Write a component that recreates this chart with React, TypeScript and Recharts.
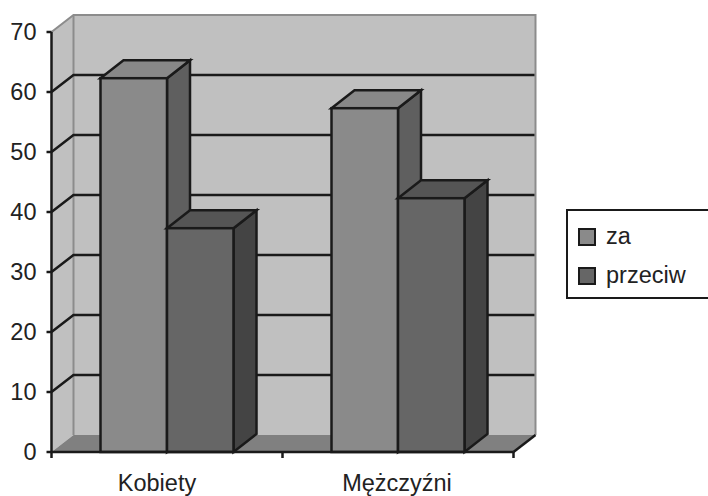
import { BarChart, Bar, XAxis, YAxis, Legend, usePlotArea } from "recharts";

const categories = ["Kobiety", "Mężczyźni"];
const zaValues = [62.3, 57.3];
const przeciwValues = [37.3, 42.3];
const yTicks = [0, 10, 20, 30, 40, 50, 60, 70];
const labelShift = [-10, -1];

const seriesNames = { za: "za", przeciw: "przeciw" };
const data = categories.map((name, i) => ({
  name,
  za: zaValues[i],
  przeciw: przeciwValues[i],
}));

const FONT = '"Liberation Sans", Arial, sans-serif';
const INK = "#1a1a1a";
const LINE = 2.5;
const DEPTH_X = 22;
const DEPTH_Y = 17;

// back wall, side wall, floor and the grid that runs round them
const Room = () => {
  const plot = usePlotArea();
  if (!plot) return null;
  const { x, y, width, height } = plot;
  const bottom = y + height;
  const right = x + width;
  const step = height / (yTicks.length - 1);
  return (
    <g>
      <rect x={x + DEPTH_X} y={y - DEPTH_Y} width={width} height={height} fill="#c0c0c0" />
      <polygon
        points={`${x},${y} ${x + DEPTH_X},${y - DEPTH_Y} ${x + DEPTH_X},${bottom - DEPTH_Y} ${x},${bottom}`}
        fill="#c0c0c0"
      />
      <polygon
        points={`${x},${bottom} ${x + DEPTH_X},${bottom - DEPTH_Y} ${right + DEPTH_X},${bottom - DEPTH_Y} ${right},${bottom}`}
        fill="#808080"
      />
      <path
        d={`M${x},${y} L${x + DEPTH_X},${y - DEPTH_Y} L${right + DEPTH_X},${y - DEPTH_Y} L${right + DEPTH_X},${bottom - DEPTH_Y}`}
        fill="none"
        stroke="#8c8c8c"
        strokeWidth={2}
      />
      <line x1={x + DEPTH_X} y1={y - DEPTH_Y} x2={x + DEPTH_X} y2={bottom - DEPTH_Y} stroke="#8c8c8c" strokeWidth={2} />
      {yTicks.slice(1, -1).map((t) => {
        const ly = bottom - t * (step / 10);
        return (
          <path
            key={t}
            d={`M${x},${ly} L${x + DEPTH_X},${ly - DEPTH_Y} L${right + DEPTH_X - 1},${ly - DEPTH_Y}`}
            fill="none"
            stroke={INK}
            strokeWidth={LINE}
          />
        );
      })}
      <line x1={right} y1={bottom} x2={right + DEPTH_X} y2={bottom - DEPTH_Y} stroke={INK} strokeWidth={LINE} />
      {[0, 1, 2].map((i) => {
        const tx = x + (i * width) / categories.length;
        return <line key={i} x1={tx} y1={bottom} x2={tx} y2={bottom + 6} stroke={INK} strokeWidth={LINE} />;
      })}
    </g>
  );
};

const Box3D = (props: any) => {
  const { x, y, width, height, front, top, side } = props;
  const r = x + width;
  const b = y + height;
  const dx = DEPTH_X + 1;
  const dy = DEPTH_Y + 1;
  return (
    <g stroke={INK} strokeWidth={LINE} strokeLinejoin="miter">
      <polygon points={`${r},${y} ${r + dx},${y - dy} ${r + dx},${b - dy} ${r},${b}`} fill={side} />
      <polygon points={`${x},${y} ${x + dx},${y - dy} ${r + dx},${y - dy} ${r},${y}`} fill={top} />
      <rect x={x} y={y} width={width} height={height} fill={front} />
    </g>
  );
};

const CategoryTick = (props: any) => {
  const { x, y, index, payload } = props;
  return (
    <text x={x + labelShift[index]} y={y + 31} textAnchor="middle" fontFamily={FONT} fontSize={23.5} fill="#222">
      {payload.value}
    </text>
  );
};

const LegendBox = () => (
  <div
    style={{
      width: 160,
      height: 90,
      boxSizing: "border-box",
      border: `2.5px solid ${INK}`,
      background: "#fff",
      fontFamily: FONT,
      fontSize: 23.5,
      color: "#222",
      position: "relative",
    }}
  >
    {[
      { name: seriesNames.za, fill: "#8a8a8a", top: 17 },
      { name: seriesNames.przeciw, fill: "#666666", top: 56 },
    ].map((item) => (
      <div key={item.name} style={{ position: "absolute", left: 10, top: item.top, display: "flex", alignItems: "center", lineHeight: "18px" }}>
        <span
          style={{
            display: "inline-block",
            width: 18,
            height: 18,
            boxSizing: "border-box",
            border: `2.5px solid ${INK}`,
            background: item.fill,
            marginRight: 10,
          }}
        />
        <span style={{ position: "relative", top: -1 }}>{item.name}</span>
      </div>
    ))}
  </div>
);

export default function App() {
  return (
    <div style={{ position: "absolute", left: 0, top: 0, width: 708, height: 496, overflow: "hidden", background: "#fff" }}>
      <BarChart
        width={708}
        height={496}
        data={data}
        margin={{ top: 32, right: 194.5, bottom: 0, left: 0 }}
        barGap={0}
        barSize={66.5}
      >
        <Room />
        <XAxis
          dataKey="name"
          height={44}
          tickLine={false}
          axisLine={{ stroke: INK, strokeWidth: LINE }}
          tick={<CategoryTick />}
          interval={0}
        />
        <YAxis
          width={51.5}
          domain={[0, 70]}
          ticks={yTicks}
          interval={0}
          tickSize={5}
          tickMargin={10}
          tickLine={{ stroke: INK, strokeWidth: LINE }}
          axisLine={{ stroke: INK, strokeWidth: LINE }}
          tick={{ fontFamily: FONT, fontSize: 23.5, fill: "#222" }}
        />
        <Legend
          layout="horizontal"
          verticalAlign="middle"
          align="center"
          wrapperStyle={{ left: 566, top: 209, width: 160, height: 90 }}
          content={<LegendBox />}
        />
        <Bar
          dataKey="za"
          isAnimationActive={false}
          shape={(p: any) => <Box3D {...p} front="#8a8a8a" top="#888888" side="#5f5f5f" />}
        />
        <Bar
          dataKey="przeciw"
          isAnimationActive={false}
          shape={(p: any) => <Box3D {...p} front="#666666" top="#555555" side="#444444" />}
        />
      </BarChart>
    </div>
  );
}
